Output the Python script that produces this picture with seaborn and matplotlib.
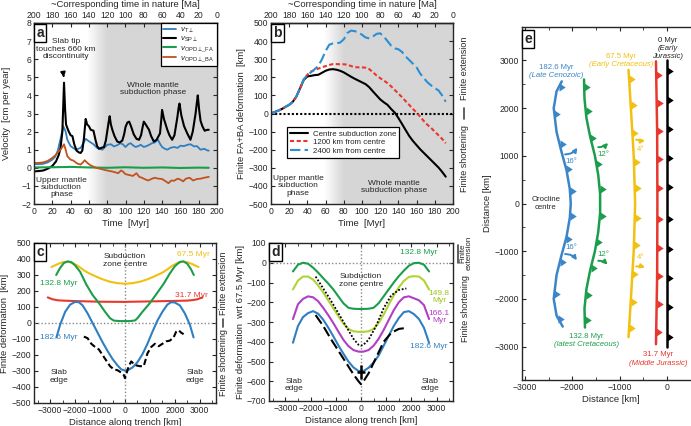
import numpy as np
import matplotlib
matplotlib.use("Agg")
import matplotlib.pyplot as plt
import matplotlib.transforms as mtransforms
from matplotlib.colors import LinearSegmentedColormap
from matplotlib.path import Path
import seaborn as sns

# ---------------- panel a: trench-normal velocities [cm/yr] ----------------
t_sp = [0, 5, 10, 15, 20, 24, 27, 29, 31, 32.8, 34, 35, 36.4, 38, 40, 42, 44, 46.5, 49, 51,
        52.8, 54.5, 56.5, 58, 60, 62, 65, 67.4, 69, 71, 73.5, 76.5, 78.5, 80, 81.5, 82.7, 84,
        85.6, 88, 91, 93.5, 96.5, 98.5, 100, 102, 104, 106, 109, 112, 114.8, 117, 118.5, 120,
        122, 125.7, 128, 131, 134, 137.7, 139, 140, 142, 145.7, 148, 151, 153.5, 156.7, 158,
        159, 161, 164, 167.5, 171, 173.5, 176.6, 178, 179, 180.5, 182, 184, 186.5, 189.5, 191]
v_sp = [-0.2, -0.18, -0.15, -0.05, 0.1, 0.35, 0.7, 1.1, 2.0, 4.7, 3.2, 2.4, 2.2, 2.0, 1.8,
        1.75, 1.3, 0.95, 0.85, 0.82, 0.95, 1.6, 2.7, 2.4, 2.3, 2.1, 2.05, 1.5, 1.2, 1.05, 1.1,
        1.15, 1.5, 2.0, 2.5, 2.85, 2.4, 2.1, 1.75, 1.45, 1.4, 1.5, 1.85, 2.25, 2.5, 2.55, 2.3,
        1.85, 1.6, 1.55, 1.8, 2.2, 2.55, 2.4, 2.1, 1.75, 1.45, 1.55, 1.9, 2.6, 3.2, 2.7, 2.1,
        1.8, 1.55, 1.8, 2.8, 3.3, 3.55, 2.9, 2.3, 1.9, 1.55, 2.0, 3.0, 3.6, 4.0, 3.2, 2.6, 2.3,
        2.05, 2.1, 2.1]
t_t = [0, 5, 10, 15, 20, 23, 26, 29, 32, 34.6, 36.4, 40, 45.5, 51, 56.5, 59, 62, 65, 69,
       74.7, 80, 84, 87.4, 91, 94.7, 97, 100, 103, 105.6, 108, 111, 114, 116.6, 120, 123.9,
       127, 129, 132, 135.5, 138, 140, 143, 145.7, 149, 153, 157, 160, 164, 167.6, 171, 175,
       178, 182, 186, 189.5, 191]
v_t = [0.2, 0.2, 0.22, 0.3, 0.45, 0.6, 0.95, 1.6, 2.3, 2.0, 1.55, 1.2, 1.0, 1.1, 1.6, 1.5,
       1.4, 1.3, 1.1, 1.0, 1.27, 1.3, 1.18, 1.25, 1.36, 1.3, 1.15, 1.3, 1.36, 1.25, 1.15, 1.2,
       1.27, 1.15, 1.22, 1.3, 1.36, 1.4, 1.55, 1.3, 1.15, 1.05, 1.0, 1.1, 1.15, 1.1, 1.22, 1.2,
       1.27, 1.3, 1.18, 1.2, 1.0, 1.05, 0.96, 0.95]
t_fa = [0, 20, 40, 60, 80, 100, 120, 140, 160, 180, 191]
v_fa = [0.02, 0.03, 0.05, 0.02, 0.0, 0.03, 0.0, 0.02, -0.01, 0.01, 0.0]
t_ba = [0, 5, 10, 15, 20, 24, 27, 29, 31, 32.8, 34.6, 36.4, 38, 40, 43, 45.5, 48, 51, 53.5,
        55.4, 58.3, 62, 65.6, 68, 72, 76, 80, 85, 89, 92, 95, 97, 100, 104, 108, 112, 115, 118,
        122, 125, 129, 132, 136, 140, 144, 147, 150, 153, 157, 160, 163, 166, 170, 174, 178,
        182, 186, 191]
v_ba = [0.27, 0.27, 0.3, 0.38, 0.55, 0.72, 0.9, 1.0, 1.15, 1.3, 1.0, 0.65, 0.55, 0.45, 0.4,
        0.3, 0.22, 0.18, 0.3, 0.42, 0.27, 0.13, 0.05, 0.0, -0.05, -0.1, -0.15, -0.2, -0.25,
        -0.3, -0.15, -0.2, -0.35, -0.4, -0.45, -0.3, -0.5, -0.55, -0.65, -0.7, -0.6, -0.55,
        -0.6, -0.62, -0.75, -0.85, -0.7, -0.72, -0.6, -0.65, -0.75, -0.6, -0.55, -0.7, -0.62,
        -0.6, -0.55, -0.5]

# ---------------- panel b: finite FA+BA deformation [km] ----------------
t_def = list(range(0, 193, 4))
def_centre = [0, 8, 16, 25, 37, 48, 65, 95, 140, 186, 205, 208, 212, 214, 225, 236, 243, 245,
              242, 236, 227, 215, 203, 192, 182, 172, 162, 145, 122, 100, 78, 62, 48, 25, 5,
              -25, -58, -92, -125, -152, -175, -198, -218, -238, -258, -278, -298, -322, -349]
def_1200 = [0, 8, 16, 25, 37, 48, 65, 95, 140, 186, 215, 232, 240, 248, 255, 262, 268, 273,
            273, 272, 272, 270, 262, 256, 255, 255, 253, 245, 228, 210, 195, 182, 168, 150, 130,
            110, 90, 68, 47, 25, 5, -18, -42, -63, -80, -100, -120, -140, -164]
def_2400 = [0, 8, 16, 25, 37, 48, 65, 95, 140, 190, 212, 228, 245, 262, 300, 345, 380, 387,
            388, 392, 410, 445, 458, 455, 448, 435, 420, 415, 425, 440, 443, 425, 400, 375, 360,
            355, 340, 315, 295, 275, 255, 220, 195, 172, 155, 140, 128, 100, 65]

# ---------------- panel c: finite deformation along trench [km] ----------------
c_yellow_x = [-2950, -2700, -2500, -2300, -2100, -1900, -1700, -1500, -1200, -900, -600, -300,
              0, 300, 600, 900, 1200, 1500, 1700, 1900, 2100, 2300, 2500, 2700, 2950]
c_yellow_y = [350, 368, 380, 383, 375, 358, 335, 315, 293, 273, 258, 249, 245, 249, 258, 273,
              293, 315, 335, 358, 375, 383, 380, 368, 350]
c_green_x = [-2760, -2600, -2450, -2300, -2150, -2000, -1800, -1550, -1300, -1000, -800, -600,
             -450, -200, 0, 200, 400, 500, 700, 1000, 1300, 1550, 1800, 2000, 2200, 2350, 2500,
             2650, 2760]
c_green_y = [300, 345, 375, 385, 380, 360, 320, 240, 175, 115, 70, 30, 15, 12, 12, 12, 16, 30,
             70, 125, 190, 245, 310, 355, 382, 385, 370, 335, 300]
c_red_x = [-3100, -2900, -2700, -2500, -2000, -1000, 0, 1000, 2000, 2500, 2700, 2900, 3100]
c_red_y = [160, 148, 142, 140, 137, 133, 132, 135, 138, 140, 143, 148, 160]
c_blue_x = [-2750, -2600, -2400, -2200, -2000, -1850, -1700, -1500, -1300, -1100, -900, -700,
            -500, -300, -150, 0, 150, 300, 500, 700, 900, 1100, 1300, 1500, 1700, 1850, 2000,
            2200, 2400, 2600, 2750]
c_blue_y = [-90, -10, 70, 115, 132, 130, 110, 60, 0, -60, -120, -175, -225, -265, -290, -297,
            -292, -278, -245, -195, -130, -55, 15, 70, 115, 130, 128, 110, 60, -10, -90]
c_obs_x = [-1650, -1500, -1350, -1200, -1050, -900, -750, -600, -450, -300, -150, -50, 0, 50,
           150, 250, 350, 450, 600, 750, 900, 1050, 1200, 1350, 1500, 1650, 1800, 1950, 2050,
           2150, 2250, 2350]
c_obs_y = [-85, -95, -130, -150, -165, -200, -235, -270, -290, -295, -310, -325, -345, -320,
           -270, -240, -255, -265, -270, -270, -190, -150, -130, -145, -130, -115, -110, -90,
           -55, -45, -60, -70]

# ---------------- panel d: deformation relative to 67.5 Myr [km] ----------------
d_x = [-2700, -2500, -2300, -2100, -1900, -1700, -1500, -1300, -1100, -900, -700, -500, -300,
       -100, 100, 300, 500, 700, 900, 1100, 1300, 1500, 1700, 1900, 2100, 2300, 2500, 2700]
d_green = [-44, -10, 0, -5, -25, -50, -78, -105, -135, -170, -205, -228, -233, -234, -234,
           -233, -228, -205, -170, -135, -100, -68, -40, -15, -2, 0, -10, -44]
d_lime = [-135, -90, -70, -70, -85, -115, -150, -190, -230, -270, -308, -335, -347, -350, -350,
          -347, -335, -305, -262, -212, -165, -125, -92, -72, -68, -70, -90, -135]
d_purple = [-285, -210, -183, -170, -175, -195, -228, -265, -305, -348, -390, -422, -442, -450,
            -450, -442, -420, -385, -340, -290, -240, -200, -175, -170, -180, -190, -215, -285]
d_blue = [-405, -320, -275, -255, -245, -258, -288, -328, -372, -418, -460, -500, -530, -548,
          -548, -532, -505, -470, -420, -370, -320, -280, -250, -245, -260, -285, -330, -405]
d_obs_x = [-1800, -1500, -1200, -900, -600, -300, -100, 0, 100, 300, 600, 900, 1200, 1500, 1800]
d_dotted = [-70, -130, -190, -255, -320, -385, -415, -420, -415, -390, -320, -230, -165, -138, -130]
d_dashed = [-265, -320, -385, -445, -505, -565, -600, -615, -600, -560, -480, -400, -355, -335, -330]
d_err_x, d_err_y, d_err_dx, d_err_dy = [0], [-555], [150], [35]

# ---------------- panel e: map view of the trench [km] ----------------
e_black_y = [3000, -3000]
e_black_x = [0, 0]
e_red_y = [2980, 1500, 0, -1500, -2950]
e_red_x = [-230, -205, -200, -205, -230]
e_yellow_y = [2800, 2000, 1000, 0, -1000, -2000, -2800]
e_yellow_x = [-810, -760, -700, -670, -700, -760, -810]
e_green_y = [2600, 2200, 1800, 1400, 1000, 600, 200, -200, -600, -1000, -1400, -1800, -2200, -2600]
e_green_x = [-1750, -1740, -1700, -1620, -1520, -1450, -1410, -1410, -1450, -1520, -1620,
             -1700, -1740, -1730]
e_blue_y = [2560, 2350, 2000, 1500, 1100, 700, 300, 0, -300, -700, -1100, -1500, -2000, -2350, -2580]
e_blue_x = [-2220, -2330, -2390, -2330, -2230, -2120, -2050, -2030, -2050, -2120, -2230, -2330,
            -2390, -2330, -2200]
teeth_black = [2780, 2170, 1560, 960, 350, -330, -960, -1560, -2170, -2790]
teeth_red = [2700, 2110, 1520, 930, 330, -330, -930, -1520, -2110, -2700]
teeth_yellow = [2620, 2060, 1480, 875, 330, -300, -880, -1470, -2060, -2620]
teeth_green = [2450, 1930, 1380, 820, 300, -270, -810, -1350, -1920, -2440]
teeth_blue = [2450, 1880, 1240, 720, 270, -260, -750, -1230, -1900, -2420]

# ---------------- style ----------------
sns.set_style("ticks")
plt.rcParams['font.family'] = ['Liberation Sans', 'DejaVu Sans']
plt.rcParams.update({
    'mathtext.fontset': 'custom', 'mathtext.rm': 'Liberation Sans',
    'mathtext.it': 'Liberation Sans:italic', 'mathtext.bf': 'Liberation Sans:bold',
    'font.size': 6.3, 'axes.labelsize': 6.8, 'xtick.labelsize': 6.2, 'ytick.labelsize': 6.2,
    'axes.linewidth': 1.0, 'xtick.direction': 'in', 'ytick.direction': 'in',
    'xtick.major.size': 3, 'ytick.major.size': 3, 'xtick.minor.size': 2, 'ytick.minor.size': 2,
    'xtick.major.pad': 2.5, 'ytick.major.pad': 2.0, 'axes.labelpad': 2,
})

BLUE = '#2f7fc1'
GREEN = '#1b9e4b'
ORANGE = '#c2521d'
RED = '#e8382e'
YELLOW = '#f2c010'
LIME = '#b0d335'
PURPLE = '#b03fc4'
GREY = '#d6d6d6'

W, H = 691, 426
fig = plt.figure(figsize=(W / 100, H / 100), dpi=100)


def box(l, t, r, b):
    return [l / W, 1 - b / H, (r - l) / W, (b - t) / H]


def minus(vals):
    return [str(v).replace('-', '\u2212') for v in vals]


def panel_letter(ax, s):
    ax.text(0.012, 0.985, s, transform=ax.transAxes, ha='left', va='top', fontsize=10,
            fontweight='bold', zorder=10,
            bbox=dict(boxstyle='square,pad=0.15', fc='white', ec='black', lw=1.0))


def shade(ax, ymin, ymax):
    cmap = LinearSegmentedColormap.from_list('sh', ['white', GREY])
    tt = np.linspace(0, 200, 401)
    ramp = np.clip((tt - 58) / 22, 0, 1)[None, :]
    ax.imshow(ramp, extent=[0, 200, ymin, ymax], cmap=cmap, vmin=0, vmax=1,
              aspect='auto', origin='lower', zorder=0)


def top_time_axis(ax):
    sec = ax.secondary_xaxis('top', functions=(lambda x: 200 - x, lambda x: 200 - x))
    sec.set_xticks(range(0, 201, 20))
    sec.tick_params(direction='in', length=3, pad=2)
    sec.set_xlabel('~Corresponding time in nature [Ma]', labelpad=3)


def side_labels(ax, ext_y, short_y, bar, x=1.06, ext_text='Finite extension', fs=6.5):
    tr = mtransforms.blended_transform_factory(ax.transAxes, ax.transData)
    ax.text(x, ext_y, ext_text, transform=tr, rotation=90, ha='center', va='center',
            fontsize=fs, linespacing=0.95, clip_on=False)
    ax.text(x, short_y, 'Finite shortening', transform=tr, rotation=90, ha='center',
            va='center', fontsize=6.5, clip_on=False)
    ax.plot([bar[0], bar[0]], bar[1:], transform=tr, color='#444444', lw=1.2, clip_on=False)


def line(ax, x, y, color, lw=1.3, **kw):
    sns.lineplot(x=x, y=y, ax=ax, color=color, lw=lw, estimator=None, sort=False, **kw)


# ---------------- a ----------------
axa = fig.add_axes(box(34, 23, 217, 204))
shade(axa, -2, 8)
line(axa, t_t, v_t, BLUE, label=r'$v_{\mathrm{T}\perp}$')
line(axa, t_sp, v_sp, 'black', lw=1.5, label=r'$v_{\mathrm{SP}\perp}$')
line(axa, t_fa, v_fa, GREEN, lw=1.5, label=r'$v_{\mathrm{OPD}\perp\mathrm{\_FA}}$')
line(axa, t_ba, v_ba, ORANGE, label=r'$v_{\mathrm{OPD}\perp\mathrm{\_BA}}$')
axa.set_xlim(0, 200)
axa.set_ylim(-2, 8)
axa.set_xticks(range(0, 201, 20))
axa.set_yticks(range(-2, 9))
axa.set_yticklabels(minus(range(-2, 9)))
axa.tick_params(right=True)
axa.set_xlabel('Time  [Myr]')
axa.set_ylabel('Velocity  [cm per year]')
axa.yaxis.set_label_coords(-0.125, 0.5)
top_time_axis(axa)
leg = axa.legend(loc='upper right', borderaxespad=0, fontsize=5.8, handlelength=1.6,
                 labelspacing=0.05, fancybox=False, framealpha=1, edgecolor='black',
                 borderpad=0.3, handletextpad=0.5)
leg.get_frame().set_linewidth(0.9)
axa.annotate('Slab tip\ntouches 660 km\ndiscontinuity', xy=(33, 4.85), xytext=(35, 6.55),
             ha='center', va='center', fontsize=6, linespacing=1.05,
             arrowprops=dict(arrowstyle='-|>', color='black', lw=1.2, mutation_scale=7,
                             shrinkA=9, relpos=(0.42, 0)))
axa.text(130, 4.35, 'Whole mantle\nsubduction phase', ha='center', va='center', fontsize=6,
         linespacing=1.05)
axa.text(30, -1.1, 'Upper mantle\nsubduction\nphase', ha='center', va='center', fontsize=6,
         linespacing=1.05)
panel_letter(axa, 'a')

# ---------------- b ----------------
axb = fig.add_axes(box(271, 23, 453, 204))
shade(axb, -500, 500)
line(axb, t_def, def_centre, 'black', lw=1.5, label='Centre subduction zone')
line(axb, t_def, def_1200, RED, lw=1.5, linestyle=(0, (2, 1.2)), label='1200 km from centre')
line(axb, t_def, def_2400, '#2b8fd4', lw=1.5, linestyle=(0, (5, 2)), label='2400 km from centre')
axb.axhline(0, color='black', ls=(0, (1, 1)), lw=1.5, zorder=1.5)
axb.set_xlim(0, 200)
axb.set_ylim(-500, 500)
axb.set_xticks(range(0, 201, 20))
axb.set_yticks(range(-500, 501, 100))
axb.set_yticklabels(minus(range(-500, 501, 100)))
axb.tick_params(right=True)
axb.set_xlabel('Time  [Myr]')
axb.set_ylabel('Finite FA+BA deformation  [km]')
top_time_axis(axb)
leg = axb.legend(loc='lower left', bbox_to_anchor=(0.065, 0.235), fontsize=5.7,
                 handlelength=2.3, labelspacing=0.12, fancybox=False, framealpha=1,
                 edgecolor='black', borderpad=0.35, handletextpad=0.6)
leg.get_frame().set_linewidth(0.9)
axb.text(30, -400, 'Upper mantle\nsubduction\nphase', ha='center', va='center', fontsize=6,
         linespacing=1.05)
axb.text(135, -405, 'Whole mantle\nsubduction phase', ha='center', va='center', fontsize=6,
         linespacing=1.05)
side_labels(axb, 250, -250, (1.06, -30, 30), x=1.065)
panel_letter(axb, 'b')

# ---------------- c ----------------
axc = fig.add_axes(box(34, 243, 216, 403))
axc.axhline(0, color='#888888', ls=(0, (1, 1.5)), lw=1.0)
axc.axvline(0, color='#888888', ls=(0, (1, 1.5)), lw=1.0)
line(axc, c_yellow_x, c_yellow_y, YELLOW, lw=1.5)
line(axc, c_red_x, c_red_y, RED, lw=1.5)
line(axc, c_green_x, c_green_y, GREEN, lw=1.5)
line(axc, c_blue_x, c_blue_y, BLUE, lw=1.5)
line(axc, c_obs_x, c_obs_y, 'black', lw=1.5, linestyle=(0, (3, 1.5)))
axc.set_xlim(-3650, 3650)
axc.set_ylim(-500, 500)
axc.set_xticks(range(-3000, 3001, 1000))
axc.set_xticks(range(-3500, 3501, 500), minor=True)
axc.set_xticklabels(minus(range(-3000, 3001, 1000)))
axc.set_yticks(range(-500, 501, 100))
axc.set_yticklabels(minus(range(-500, 501, 100)))
axc.tick_params(which='both', top=True, right=True)
axc.set_xlabel('Distance along trench [km]')
axc.set_ylabel('Finite deformation  [km]')
axc.yaxis.set_label_coords(-0.135, 0.5)
axc.text(0, 390, 'Subduction\nzone centre', ha='center', va='center', fontsize=6,
         linespacing=1.05)
axc.text(2750, 430, '67.5 Myr', color=YELLOW, ha='center', va='center', fontsize=6)
axc.text(-2650, 245, '132.8 Myr', color=GREEN, ha='center', va='center', fontsize=6)
axc.text(2650, 150, '31.7 Myr', color=RED, ha='center', va='bottom', fontsize=6)
axc.text(-2650, -90, '182.6 Myr', color=BLUE, ha='center', va='center', fontsize=6)
axc.text(-2650, -335, 'Slab\nedge', ha='center', va='center', fontsize=6, linespacing=1.05)
axc.text(2800, -335, 'Slab\nedge', ha='center', va='center', fontsize=6, linespacing=1.05)
side_labels(axc, 250, -250, (1.04, -25, 25), x=1.04)
panel_letter(axc, 'c')

# ---------------- d ----------------
axd = fig.add_axes(box(269, 243, 453, 401))
axd.axhline(0, color='#888888', ls=(0, (1, 1.5)), lw=1.0)
axd.axvline(0, color='#888888', ls=(0, (1, 1.5)), lw=1.0)
line(axd, d_x, d_green, GREEN, lw=1.5)
line(axd, d_x, d_lime, LIME, lw=1.5)
line(axd, d_x, d_purple, PURPLE, lw=1.5)
line(axd, d_x, d_blue, BLUE, lw=1.5)
line(axd, d_obs_x, d_dotted, 'black', lw=1.3, linestyle=(0, (1, 1)))
line(axd, d_obs_x, d_dashed, 'black', lw=1.5, linestyle=(0, (5, 2)))
axd.errorbar(d_err_x, d_err_y, xerr=d_err_dx, yerr=d_err_dy, fmt='none', ecolor='black',
             elinewidth=1.8, capsize=0, zorder=5)
axd.set_xlim(-3650, 3650)
axd.set_ylim(-700, 100)
axd.set_xticks(range(-3000, 3001, 1000))
axd.set_xticks(range(-3500, 3501, 500), minor=True)
axd.set_xticklabels(minus(range(-3000, 3001, 1000)))
axd.set_yticks(range(-700, 101, 100))
axd.set_yticklabels(minus(range(-700, 101, 100)))
axd.tick_params(which='both', top=True, right=True)
axd.set_xlabel('Distance along trench [km]')
axd.set_ylabel('Finite deformation  wrt 67.5 Myr [km]')
axd.yaxis.set_label_coords(-0.13, 0.5)
axd.text(0, -90, 'Subduction\nzone centre', ha='center', va='center', fontsize=6,
         linespacing=1.05)
axd.text(2300, 50, '132.8 Myr', color=GREEN, ha='center', va='center', fontsize=6)
axd.text(3100, -172, '149.8\nMyr', color='#9cc41c', ha='center', va='center', fontsize=6,
         linespacing=1.05)
axd.text(3100, -275, '166.1\nMyr', color=PURPLE, ha='center', va='center', fontsize=6,
         linespacing=1.05)
axd.text(2700, -425, '182.6 Myr', color=BLUE, ha='center', va='center', fontsize=6)
axd.text(-2650, -620, 'Slab\nedge', ha='center', va='center', fontsize=6, linespacing=1.05)
axd.text(2750, -620, 'Slab\nedge', ha='center', va='center', fontsize=6, linespacing=1.05)
side_labels(axd, 48, -230, (1.025, 0, 90), x=1.07, ext_text='Finite\nextension', fs=5.8)
panel_letter(axd, 'd')

# ---------------- e ----------------
axe = fig.add_axes(box(522, 27, 700, 380))
tooth = Path([(0, -1), (0, 1), (1.5, 0), (0, -1)],
             [Path.MOVETO, Path.LINETO, Path.LINETO, Path.CLOSEPOLY])
traces = [(e_blue_x, e_blue_y, teeth_blue, '#3a86c8'),
          (e_green_x, e_green_y, teeth_green, GREEN),
          (e_yellow_x, e_yellow_y, teeth_yellow, YELLOW),
          (e_red_x, e_red_y, teeth_red, RED),
          (e_black_x, e_black_y, teeth_black, 'black')]
for xs, ys, teeth, col in traces:
    line(axe, xs, ys, col, lw=1.8)
    tx = np.interp(teeth, ys[::-1], xs[::-1])
    sns.scatterplot(x=tx, y=teeth, ax=axe, marker=tooth, s=80, color=col, linewidth=0,
                    zorder=4)
axe.set_xlim(-3060, 700)
axe.set_ylim(-3700, 3700)
axe.set_xticks(range(-3000, 1, 1000))
axe.set_xticks(range(-3000, 501, 500), minor=True)
axe.set_xticklabels(minus(range(-3000, 1, 1000)))
axe.set_yticks(range(-3000, 3001, 1000))
axe.set_yticks(range(-3500, 3501, 500), minor=True)
axe.set_yticklabels(minus(range(-3000, 3001, 1000)))
axe.tick_params(which='both', top=True, right=True)
axe.set_xlabel('Distance [km]')
axe.set_ylabel('Distance [km]')
fs = 5.6
axe.text(-2330, 2860, '182.6 Myr', color='#3a86c8', ha='center', va='center', fontsize=fs)
axe.text(-2330, 2690, '(Late Cenozoic)', color='#3a86c8', ha='center', va='center',
         fontsize=fs, style='italic')
axe.text(-960, 3080, '67.5 Myr', color=YELLOW, ha='center', va='center', fontsize=fs)
axe.text(-960, 2910, '(Early Cretaceous)', color=YELLOW, ha='center', va='center',
         fontsize=fs, style='italic')
axe.text(20, 3420, '0 Myr', ha='center', va='center', fontsize=fs)
axe.text(20, 3255, '(Early', ha='center', va='center', fontsize=fs, style='italic')
axe.text(20, 3090, 'Jurassic)', ha='center', va='center', fontsize=fs, style='italic')
axe.text(-1700, -2780, '132.8 Myr', color=GREEN, ha='center', va='center', fontsize=fs)
axe.text(-1700, -2960, '(latest Cretaceous)', color=GREEN, ha='center', va='center',
         fontsize=fs, style='italic')
axe.text(-190, -3170, '31.7 Myr', color=RED, ha='center', va='center', fontsize=fs)
axe.text(-190, -3350, '(Middle Jurassic)', color=RED, ha='center', va='center',
         fontsize=fs, style='italic')
axe.text(-2560, 0, 'Orocline\ncentre', ha='center', va='center', fontsize=fs,
         linespacing=1.05)
for (x0, y0, x1, y1, lab, ly, col, rad) in [
        (-2150, 1030, -1890, 1170, '16\u00b0', 880, '#3a86c8', 0.25),
        (-2150, -1060, -1900, -1190, '16\u00b0', -930, '#3a86c8', -0.25),
        (-1450, 1180, -1240, 1270, '12\u00b0', 1020, GREEN, 0.2),
        (-1450, -1200, -1250, -1280, '12\u00b0', -1060, GREEN, -0.2),
        (-650, 1340, -460, 1320, '4\u00b0', 1130, YELLOW, 0.1),
        (-650, -1320, -460, -1340, '4\u00b0', -1140, YELLOW, -0.1)]:
    axe.annotate('', xy=(x1, y1), xytext=(x0, y0),
                 arrowprops=dict(arrowstyle='-|>', color=col, lw=1.4, mutation_scale=6,
                                 shrinkA=0, shrinkB=0, connectionstyle=f'arc3,rad={rad}'))
    axe.text((x0 + x1) / 2, ly, lab, color=col, ha='center', va='center', fontsize=fs)
panel_letter(axe, 'e')

fig.savefig('out.png', dpi=100)
